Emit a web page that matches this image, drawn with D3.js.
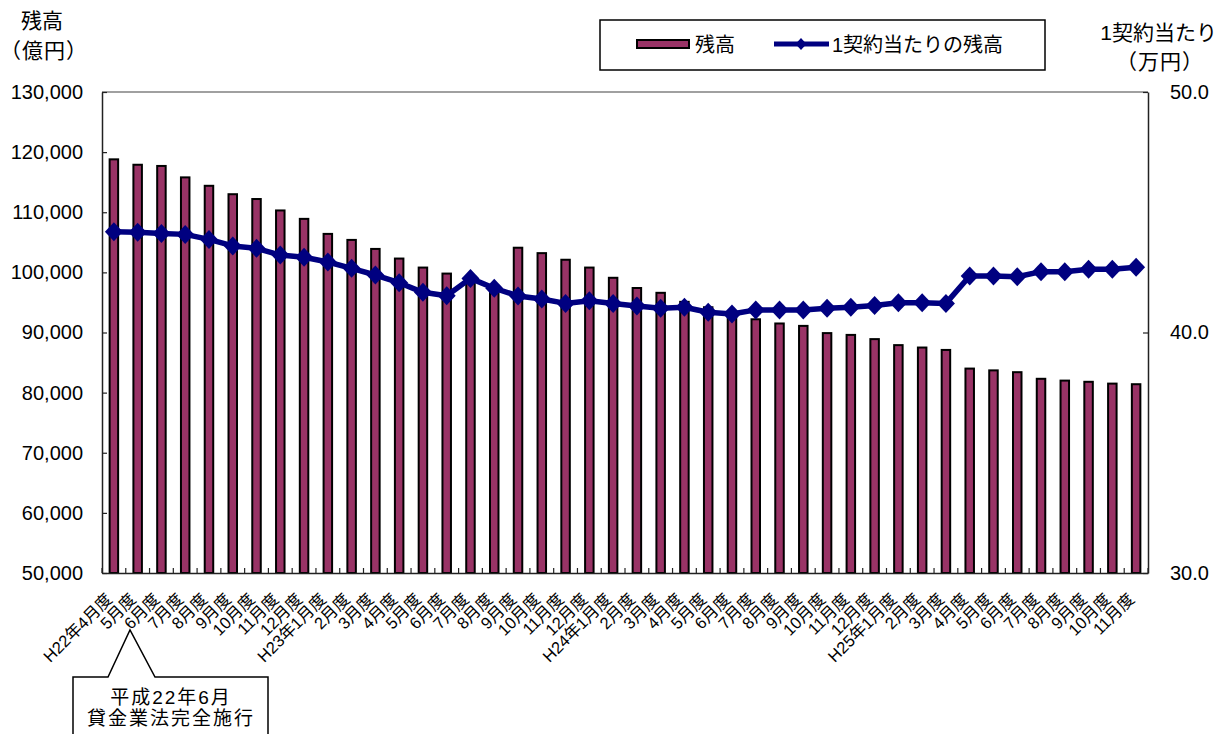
<!DOCTYPE html>
<html>
<head>
<meta charset="utf-8">
<script src="https://cdn.jsdelivr.net/npm/d3@7"></script>
<style>
  html, body { margin: 0; padding: 0; background: #fff; }
  svg { display: block; }
  text { font-family: "Liberation Sans", "Noto Sans CJK JP", sans-serif; fill: #000; }
  .cjk { font-family: "Noto Sans CJK JP", sans-serif; }
</style>
</head>
<body>
<svg id="chart" width="1218" height="734"></svg>
<script>
// ---- data ----
const categories = [
  "H22年4月度","5月度","6月度","7月度","8月度","9月度","10月度","11月度","12月度",
  "H23年1月度","2月度","3月度","4月度","5月度","6月度","7月度","8月度","9月度","10月度","11月度","12月度",
  "H24年1月度","2月度","3月度","4月度","5月度","6月度","7月度","8月度","9月度","10月度","11月度","12月度",
  "H25年1月度","2月度","3月度","4月度","5月度","6月度","7月度","8月度","9月度","10月度","11月度"
];
// 残高 (億円)
const balance = [
  118800, 117900, 117700, 115800, 114400, 113000, 112200, 110300, 108900,
  106400, 105400, 103900, 102300, 100800, 99800, 98300, 97000, 104100, 103200, 102100, 100800,
  99100, 97400, 96600, 95100, 94200, 93200, 92200, 91500, 91100, 89900, 89600, 88900,
  87900, 87500, 87100, 84000, 83700, 83400, 82300, 82000, 81800, 81500, 81400
];
// 1契約当たりの残高 (万円)
const perContract = [
  44.19, 44.17, 44.12, 44.08, 43.87, 43.60, 43.50, 43.22, 43.13,
  42.93, 42.67, 42.39, 42.07, 41.67, 41.53, 42.25, 41.84, 41.52, 41.39, 41.21, 41.32,
  41.21, 41.10, 41.01, 41.05, 40.84, 40.77, 40.94, 40.94, 40.94, 41.01, 41.05, 41.12,
  41.24, 41.24, 41.21, 42.35, 42.35, 42.32, 42.53, 42.53, 42.63, 42.63, 42.71
];
const leftTicks = [50000, 60000, 70000, 80000, 90000, 100000, 110000, 120000, 130000];
const rightTicks = [30, 40, 50];
const seriesNames = ["残高", "1契約当たりの残高"];

// ---- layout ----
const L = 102, R = 1148, T = 92, B = 573;
const svg = d3.select("#chart");

const x = d3.scaleBand().domain(d3.range(categories.length)).range([L, R]).paddingInner(0).paddingOuter(0);
const yL = d3.scaleLinear().domain([50000, 130000]).range([B, T]);
const yR = d3.scaleLinear().domain([30, 50]).range([B, T]);

const BAR = "#993366", LINE = "#000080";

// bars
const barW = 8.5;
svg.append("g").selectAll("rect").data(balance).join("rect")
  .attr("x", (d, i) => x(i) + x.bandwidth() / 2 - barW / 2)
  .attr("y", d => yL(d))
  .attr("width", barW)
  .attr("height", d => yL(50000) - yL(d))
  .attr("fill", BAR)
  .attr("stroke", "#000")
  .attr("stroke-width", 2);

// frame top line
svg.append("line").attr("x1", L).attr("x2", R).attr("y1", T).attr("y2", T)
  .attr("stroke", "#808080").attr("stroke-width", 1.5);

// left axis
const gL = svg.append("g").attr("transform", `translate(${L},0)`)
  .call(d3.axisLeft(yL).tickValues(leftTicks).tickFormat(d3.format(",")).tickSizeInner(-5).tickSizeOuter(0).tickPadding(19));
gL.select(".domain").attr("stroke", "#222").attr("stroke-width", 1.5);
gL.selectAll(".tick line").attr("stroke", "#222").attr("stroke-width", 1.2);
gL.selectAll("text").attr("font-size", 20).attr("fill", "#000");

// right axis
const gR = svg.append("g").attr("transform", `translate(${R},0)`)
  .call(d3.axisRight(yR).tickValues(rightTicks).tickFormat(d3.format(".1f")).tickSizeInner(-5).tickSizeOuter(0).tickPadding(22));
gR.select(".domain").attr("stroke", "#222").attr("stroke-width", 1.5);
gR.selectAll(".tick line").attr("stroke", "#222").attr("stroke-width", 1.2);
gR.selectAll("text").attr("font-size", 20).attr("fill", "#000");

// bottom axis line + labels
const gB = svg.append("g").attr("transform", `translate(0,${B})`)
  .call(d3.axisBottom(x).tickFormat(i => categories[i]).tickSize(0).tickPadding(0));
gB.select(".domain").attr("stroke", "#222").attr("stroke-width", 1.5);
gB.selectAll(".tick text")
  .attr("font-size", 16.5)
  .attr("text-anchor", "end")
  .attr("x", 0).attr("y", 0).attr("dy", "0.8em")
  .attr("transform", "translate(-10,18) rotate(-45)");
// category boundary ticks (inward)
svg.append("g").selectAll("line").data(d3.range(categories.length + 1)).join("line")
  .attr("x1", i => x(0) + i * x.step()).attr("x2", i => x(0) + i * x.step())
  .attr("y1", B).attr("y2", B - 5)
  .attr("stroke", "#222").attr("stroke-width", 1.2);

// line series
const lineGen = d3.line().x((d, i) => x(i) + x.bandwidth() / 2).y(d => yR(d));
svg.append("path").datum(perContract)
  .attr("d", lineGen).attr("fill", "none")
  .attr("stroke", LINE).attr("stroke-width", 5.5).attr("stroke-linejoin", "round");
const diamond = "M0,-9.5L9,0L0,9.5L-9,0Z";
svg.append("g").selectAll("path").data(perContract).join("path")
  .attr("d", diamond)
  .attr("transform", (d, i) => `translate(${x(i) + x.bandwidth() / 2},${yR(d)})`)
  .attr("fill", LINE);

// axis titles
svg.append("text").attr("class", "cjk").attr("x", 42).attr("y", 28).attr("text-anchor", "middle").attr("font-size", 21).text("残高");
svg.append("text").attr("class", "cjk").attr("x", 44).attr("y", 58).attr("text-anchor", "middle").attr("font-size", 21).attr("letter-spacing", 1).text("（億円）");
svg.append("text").attr("x", 1217).attr("y", 40).attr("text-anchor", "end").attr("font-size", 21).text("1契約当たり");
svg.append("text").attr("class", "cjk").attr("x", 1160).attr("y", 69).attr("text-anchor", "middle").attr("font-size", 21).attr("letter-spacing", 1).text("（万円）");

// legend
const lg = svg.append("g");
lg.append("rect").attr("x", 600).attr("y", 20).attr("width", 445).attr("height", 50)
  .attr("fill", "#fff").attr("stroke", "#000").attr("stroke-width", 1.5);
lg.append("rect").attr("x", 637).attr("y", 40).attr("width", 52).attr("height", 8)
  .attr("fill", BAR).attr("stroke", "#000").attr("stroke-width", 2);
lg.append("text").attr("x", 695).attr("y", 52).attr("font-size", 20).text(seriesNames[0]);
lg.append("line").attr("x1", 774).attr("x2", 829).attr("y1", 44).attr("y2", 44)
  .attr("stroke", LINE).attr("stroke-width", 5);
lg.append("path").attr("d", "M0,-6L5.5,0L0,6L-5.5,0Z").attr("transform", "translate(801,44)").attr("fill", LINE);
lg.append("text").attr("x", 832).attr("y", 52).attr("font-size", 20).text(seriesNames[1]);

// callout
const cg = svg.append("g");
cg.append("path")
  .attr("d", "M73,677L108,677L130,630L155,677L268,677L268,740L73,740Z")
  .attr("fill", "#fff").attr("stroke", "#000").attr("stroke-width", 1.5);
cg.append("text").attr("x", 171).attr("y", 704).attr("text-anchor", "middle").attr("font-size", 19)
  .attr("letter-spacing", 2).text("平成22年6月");
cg.append("text").attr("x", 171).attr("y", 725).attr("text-anchor", "middle").attr("font-size", 19)
  .attr("letter-spacing", 2).text("貸金業法完全施行");
</script>
</body>
</html>
